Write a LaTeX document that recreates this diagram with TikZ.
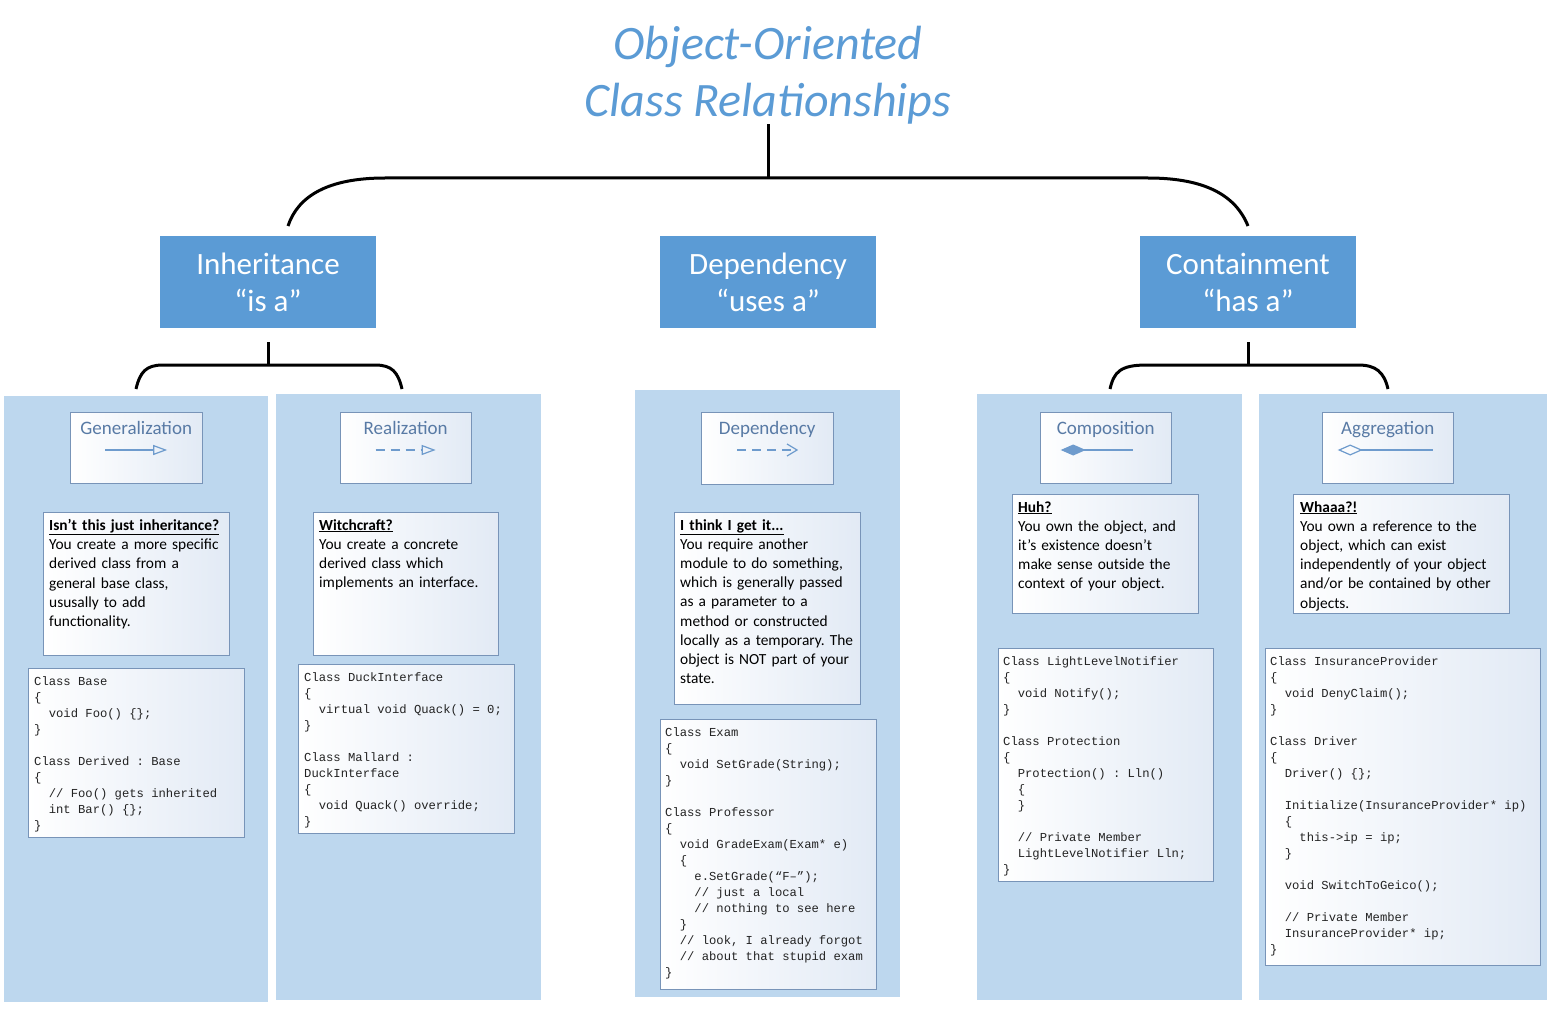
\documentclass[tikz,border=0pt]{standalone}
\usepackage{fontspec}
\setmainfont{Carlito}
\setmonofont{Liberation Mono}
\usetikzlibrary{positioning,calc,arrows.meta}
\definecolor{topblue}{RGB}{91,155,213}
\definecolor{panelblue}{RGB}{189,215,238}
\definecolor{boxedge}{RGB}{120,148,184}
\definecolor{boxtint}{RGB}{226,234,245}
\definecolor{lbltext}{RGB}{88,122,165}
\definecolor{symblue}{RGB}{110,155,205}
\definecolor{codegray}{RGB}{35,35,35}
\newcommand{\cind}{\hspace*{2\fontcharwd\font`x}}
\newcommand{\cindd}{\hspace*{4\fontcharwd\font`x}}
\newcommand{\codespacing}{\spaceskip=\fontcharwd\font`x\relax}
\frenchspacing

\begin{document}
\begin{tikzpicture}[x=1pt,y=-1pt,
    panel/.style={anchor=north west, fill=panelblue, inner sep=0},
    head/.style={fill=topblue, text=white, minimum width=216pt, minimum height=92pt, align=center, inner sep=0, font=\fontsize{31}{37}\selectfont},
    symbox/.style={anchor=north west, draw=boxedge, left color=white, right color=boxtint, inner sep=0, minimum height=71pt},
    symlabel/.style={anchor=base, text=lbltext, inner sep=0, font=\fontsize{19}{22}\selectfont},
    symline/.style={draw=symblue, line width=1.2pt},
    desc/.style={anchor=north west, draw=boxedge, left color=white, right color=boxtint, inner sep=0},
    desctext/.style={anchor=north west, inner sep=0, align=left, text width=225pt, font=\fontsize{15.4}{19.2}\selectfont},
    codetext/.style={anchor=north west, inner sep=0, align=left, text width=275pt, text=codegray, font=\fontsize{12.2}{16}\selectfont\ttfamily, execute at begin node=\codespacing},
    brk/.style={line width=3pt}]
    \useasboundingbox (0,0) rectangle (1553,1011);

    % Title
    \node[text=topblue, align=center, inner sep=0, font=\fontsize{48}{57}\selectfont\itshape] (title) at (768,75) {Object-Oriented\\Class Relationships};

    % Top level
    \node[head] (inh) at (268,282) {Inheritance\\“is a”};
    \node[head] (dep) at (768,282) {Dependency\\“uses a”};
    \node[head] (cont) at (1248,282) {Containment\\“has a”};

    \coordinate (hub) at (768,178);
    \coordinate (lend) at (288,226);
    \coordinate (rend) at (1248,226);
    \draw[brk] (title.south) -- (hub);
    \draw[brk] (lend) .. controls (298,196) and (328,178) .. (385,178) -- (1148,178) .. controls (1206,178) and (1236,196) .. (rend);

    % Sub brackets
    \coordinate (ihub) at ([yshift=-37pt]inh.south);
    \coordinate (chub) at ([yshift=-37pt]cont.south);
    \coordinate (ilend) at (136,389);
    \coordinate (irend) at (402,389);
    \coordinate (clend) at (1110,389);
    \coordinate (crend) at (1388,389);
    \draw[brk] ([yshift=-14pt]inh.south) -- (ihub);
    \draw[brk] (ilend) .. controls (140,372) and (146,365) .. (163,365) -- (375,365) .. controls (392,365) and (398,372) .. (irend);
    \draw[brk] ([yshift=-14pt]cont.south) -- (chub);
    \draw[brk] (clend) .. controls (1114,372) and (1120,365) .. (1147,365) -- (1358,365) .. controls (1376,365) and (1384,372) .. (crend);

    % Panels
    \node[panel, minimum width=264pt, minimum height=606pt] (p1) at (4,396) {};
    \node[panel, minimum width=265pt, minimum height=606pt] (p2) at (276,394) {};
    \node[panel, minimum width=265pt, minimum height=607pt] (p3) at (635,390) {};
    \node[panel, minimum width=265pt, minimum height=606pt] (p4) at (977,394) {};
    \node[panel, minimum width=288pt, minimum height=606pt] (p5) at (1259,394) {};

    % Symbol boxes
    \node[symbox, minimum width=132pt] (s1) at (70,412) {};
    \node[symbox, minimum width=131pt] (s2) at (340,412) {};
    \node[symbox, minimum width=132pt, minimum height=72pt] (s3) at (701,412) {};
    \node[symbox, minimum width=131pt] (s4) at (1040,412) {};
    \node[symbox, minimum width=131pt] (s5) at (1322,412) {};
    \node[symlabel] (s1l) at ([yshift=-22pt]s1.north) {Generalization};
    \node[symlabel] (s2l) at ([yshift=-22pt]s2.north) {Realization};
    \node[symlabel] (s3l) at ([yshift=-22pt]s3.north) {Dependency};
    \node[symlabel] (s4l) at ([yshift=-22pt]s4.north) {Composition};
    \node[symlabel] (s5l) at ([yshift=-22pt]s5.north) {Aggregation};
    \draw[symline, -{Triangle[open, length=14pt, width=10pt]}] ($(s1.north)+(-31,38)$) -- ($(s1.north)+(31,38)$);
    \draw[symline, dash pattern=on 9pt off 6pt, -{Triangle[open, length=14pt, width=10pt]}] ($(s2.north)+(-30,38)$) -- ($(s2.north)+(30,38)$);
    \draw[symline, dash pattern=on 9pt off 6pt, -{Straight Barb[length=10pt, width=12pt]}] ($(s3.north)+(-30,38)$) -- ($(s3.north)+(31,38)$);
    \draw[symline, {Diamond[length=25pt, width=11pt, fill=symblue]}-] ($(s4.north)+(-45,38)$) -- ($(s4.north)+(27,38)$);
    \draw[symline, {Diamond[open, length=25pt, width=11pt]}-] ($(s5.north)+(-50,38)$) -- ($(s5.north)+(45,38)$);

    % Description boxes
    \node[desc, minimum width=186pt, minimum height=143pt] (d1) at (43,512) {};
    \node[desc, minimum width=185pt, minimum height=143pt] (d2) at (313,512) {};
    \node[desc, minimum width=186pt, minimum height=192pt] (d3) at (674,512) {};
    \node[desc, minimum width=186pt, minimum height=119pt] (d4) at (1012,494) {};
    \node[desc, minimum width=216pt, minimum height=119pt] (d5) at (1293,494) {};
    \node[desctext] (d1t) at ([xshift=6pt, yshift=-7pt]d1.north west) {\underline{\textbf{Isn’t this just inheritance?}}\\
        You create a more specific\\
        derived class from a\\
        general base class,\\
        ususally to add\\
        functionality.};
    \node[desctext] (d2t) at ([xshift=6pt, yshift=-7pt]d2.north west) {\underline{\textbf{Witchcraft?}}\\
        You create a concrete\\
        derived class which\\
        implements an interface.};
    \node[desctext] (d3t) at ([xshift=6pt, yshift=-7pt]d3.north west) {\underline{\textbf{I think I get it...}}\\
        You require another\\
        module to do something,\\
        which is generally passed\\
        as a parameter to a\\
        method or constructed\\
        locally as a temporary. The\\
        object is NOT part of your\\
        state.};
    \node[desctext] (d4t) at ([xshift=6pt, yshift=-7pt]d4.north west) {\underline{\textbf{Huh?}}\\
        You own the object, and\\
        it’s existence doesn’t\\
        make sense outside the\\
        context of your object.};
    \node[desctext] (d5t) at ([xshift=7pt, yshift=-7pt]d5.north west) {\underline{\textbf{Whaaa?!}}\\
        You own a reference to the\\
        object, which can exist\\
        independently of your object\\
        and/or be contained by other\\
        objects.};

    % Code boxes
    \node[desc, minimum width=216pt, minimum height=169pt] (c1) at (28,668) {};
    \node[desc, minimum width=216pt, minimum height=169pt] (c2) at (298,664) {};
    \node[desc, minimum width=216pt, minimum height=270pt] (c3) at (660,719) {};
    \node[desc, minimum width=215pt, minimum height=233pt] (c4) at (998,648) {};
    \node[desc, minimum width=275pt, minimum height=317pt] (c5) at (1265,648) {};
    \node[codetext] (c1t) at ([xshift=6pt, yshift=-8pt]c1.north west) {Class Base\\
        \{\\
        \cind void Foo() \{\};\\
        \}\\
        \mbox{}\\
        Class Derived : Base\\
        \{\\
        \cind // Foo() gets inherited\\
        \cind int Bar() \{\};\\
        \}};
    \node[codetext] (c2t) at ([xshift=6pt, yshift=-8pt]c2.north west) {Class DuckInterface\\
        \{\\
        \cind virtual void Quack() = 0;\\
        \}\\
        \mbox{}\\
        Class Mallard :\\
        DuckInterface\\
        \{\\
        \cind void Quack() override;\\
        \}};
    \node[codetext] (c3t) at ([xshift=5pt, yshift=-8pt]c3.north west) {Class Exam\\
        \{\\
        \cind void SetGrade(String);\\
        \}\\
        \mbox{}\\
        Class Professor\\
        \{\\
        \cind void GradeExam(Exam* e)\\
        \cind \{\\
        \cindd e.SetGrade(“F–”);\\
        \cindd // just a local\\
        \cindd // nothing to see here\\
        \cind \}\\
        \cind // look, I already forgot\\
        \cind // about that stupid exam\\
        \}};
    \node[codetext] (c4t) at ([xshift=5pt, yshift=-8pt]c4.north west) {Class LightLevelNotifier\\
        \{\\
        \cind void Notify();\\
        \}\\
        \mbox{}\\
        Class Protection\\
        \{\\
        \cind Protection() : Lln()\\
        \cind \{\\
        \cind \}\\
        \mbox{}\\
        \cind // Private Member\\
        \cind LightLevelNotifier Lln;\\
        \}};
    \node[codetext] (c5t) at ([xshift=5pt, yshift=-8pt]c5.north west) {Class InsuranceProvider\\
        \{\\
        \cind void DenyClaim();\\
        \}\\
        \mbox{}\\
        Class Driver\\
        \{\\
        \cind Driver() \{\};\\
        \mbox{}\\
        \cind Initialize(InsuranceProvider* ip)\\
        \cind \{\\
        \cindd this->ip = ip;\\
        \cind \}\\
        \mbox{}\\
        \cind void SwitchToGeico();\\
        \mbox{}\\
        \cind // Private Member\\
        \cind InsuranceProvider* ip;\\
        \}};
\end{tikzpicture}
\end{document}
